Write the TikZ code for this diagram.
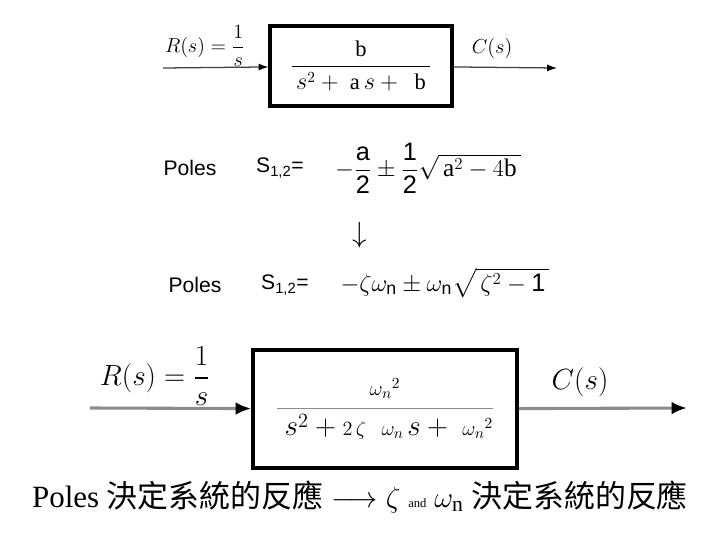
\documentclass[tikz,border=0pt]{standalone}
\usepackage{amsmath}
\usepackage{fontspec}
\setmainfont{Liberation Serif}
\setsansfont{Liberation Sans}
\newfontfamily\cjk{Noto Sans CJK TC}
\usetikzlibrary{arrows.meta,positioning}

\begin{document}
\begin{tikzpicture}[x=0.025cm,y=-0.025cm,
  blk/.style={draw=black, inner sep=0pt},
  sigtop/.style={-{Latex[length=7pt,width=5pt,color=black]}, line width=0.9pt, draw=black!75},
  sigbot/.style={-{Latex[length=11pt,width=9pt,color=black]}, line width=2.2pt, draw=black!45},
  poleslbl/.style={font=\sffamily\fontsize{15}{17}\selectfont},
  rootlbl/.style={font=\sffamily\fontsize{18}{20}\selectfont},
  smallsig/.style={font=\fontsize{15}{17}\selectfont},
  bigsig/.style={font=\fontsize{22}{26}\selectfont}]
  \useasboundingbox (0,0) rectangle (720,540);

  % Upper block: general second order plant
  \coordinate (inA) at (163,68);
  \coordinate (outA) at (557,68);
  \node[blk, line width=2.2pt, minimum width=4.55cm, minimum height=2.0cm,
        font=\fontsize{16}{18}\selectfont] (plantA) at (361,66)
        {\(\dfrac{\mathrm{b}}{\,s^{2}+\ \mathrm{a}\,s+\ \ \mathrm{b}\,}\)};
  \draw[sigtop] (inA) -- (plantA);
  \draw[sigtop] (plantA) -- (outA);
  \node[smallsig] (rA) at (205,46) {\(R(s)=\dfrac{1}{s}\)};
  \node[smallsig] (cA) at (492,48) {\(C(s)\)};

  % Poles of the general form
  \node[poleslbl] (polesA) at (190,168) {Poles};
  \node[poleslbl] (sA) at (280,168) {S\(_{\textsf{1,2}}\)=};
  \node[rootlbl] (rootA) at (428,168)
        {\(-\dfrac{\mathsf{a}}{\mathsf{2}}\pm\dfrac{\mathsf{1}}{\mathsf{2}}\sqrt{\,\mathrm{a}^{2}-4\mathrm{b}\,}\)};

  \node[bigsig] (down) at (360,235) {\(\downarrow\)};

  % Poles written with zeta and omega_n
  \node[poleslbl] (polesB) at (195,285) {Poles};
  \node[poleslbl] (sB) at (285,285) {S\(_{\textsf{1,2}}\)=};
  \node[rootlbl] (rootB) at (445,283)
        {\(-\zeta\omega_{\mathsf{n}}\pm\omega_{\mathsf{n}}\sqrt{\,\zeta^{2}-\mathsf{1}\,}\)};

  % Lower block: standard second order plant
  \coordinate (inB) at (90,408);
  \coordinate (outB) at (687,408);
  \node[blk, line width=2.6pt, minimum width=6.6cm, minimum height=2.95cm,
        font=\fontsize{22}{26}\selectfont] (plantB) at (385,409)
        {\(\color{black!45}\dfrac{\color{black}\scriptstyle\omega_{n}{}^{2}}{\color{black}\ s^{2}+{\scriptstyle 2\,\zeta\ \ \omega_{n}\,}s+\ {\scriptstyle\omega_{n}{}^{2}}}\)};
  \draw[sigbot] (inB) -- (plantB);
  \draw[sigbot] (plantB) -- (outB);
  \node[bigsig] (rB) at (155,376) {\(R(s)=\dfrac{1}{s}\)};
  \node[bigsig] (cB) at (580,382) {\(C(s)\)};

  % Conclusion
  \node[bigsig] (note) at (360,497)
        {Poles {\cjk 決定系統的反應} \(\longrightarrow\) \(\zeta\) {\fontsize{9}{10}\selectfont and} \(\omega_{\mathrm{n}}\) {\cjk 決定系統的反應}};
\end{tikzpicture}
\end{document}
